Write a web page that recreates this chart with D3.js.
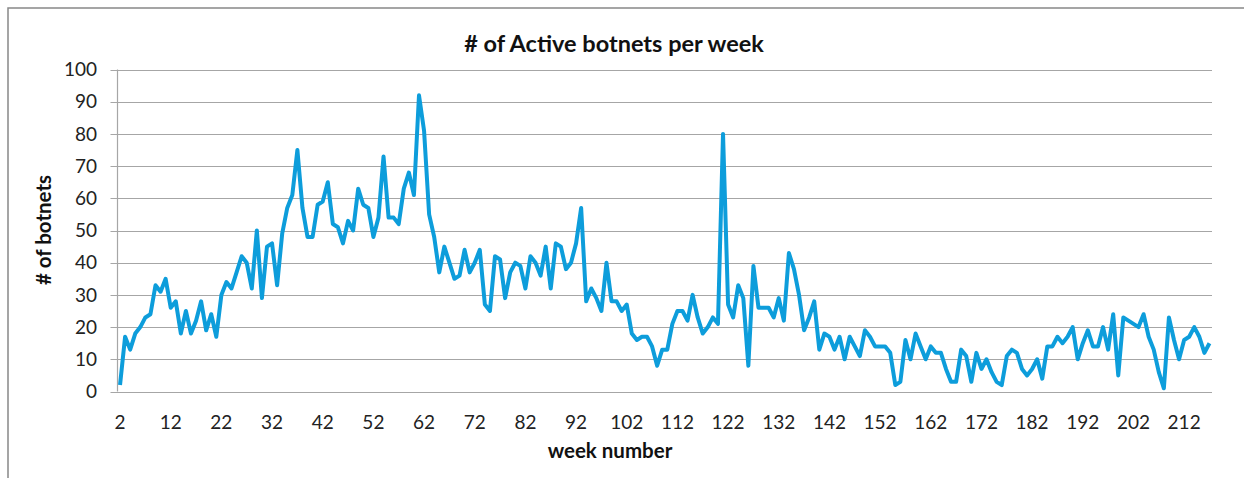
<html>
<head>
<script src="https://d3js.org/d3.v7.min.js"></script>
<style>
body { margin: 0; background: #fff; font-family: Lato, 'Open Sans', sans-serif; }
line.grid { stroke: #a6a6a6; stroke-width: 1.2; }
</style>
</head>
<body>
<div id="chart"></div>
<script>

var weeks = d3.range(2, 218);
var botnets = [
  2, 17, 13, 18, 20, 23, 24, 33, 31, 35,
  26, 28, 18, 25, 18, 22, 28, 19, 24, 17,
  30, 34, 32, 37, 42, 40, 32, 50, 29, 45,
  46, 33, 49, 57, 61, 75, 57, 48, 48, 58,
  59, 65, 52, 51, 46, 53, 50, 63, 58, 57,
  48, 54, 73, 54, 54, 52, 63, 68, 61, 92,
  81, 55, 48, 37, 45, 40, 35, 36, 44, 37,
  40, 44, 27, 25, 42, 41, 29, 37, 40, 39,
  32, 42, 40, 36, 45, 32, 46, 45, 38, 40,
  46, 57, 28, 32, 29, 25, 40, 28, 28, 25,
  27, 18, 16, 17, 17, 14, 8, 13, 13, 21,
  25, 25, 22, 30, 23, 18, 20, 23, 21, 80,
  27, 23, 33, 29, 8, 39, 26, 26, 26, 23,
  29, 22, 43, 38, 30, 19, 23, 28, 13, 18,
  17, 13, 17, 10, 17, 14, 11, 19, 17, 14,
  14, 14, 12, 2, 3, 16, 10, 18, 14, 10,
  14, 12, 12, 7, 3, 3, 13, 11, 3, 12,
  7, 10, 6, 3, 2, 11, 13, 12, 7, 5,
  7, 10, 4, 14, 14, 17, 15, 17, 20, 10,
  15, 19, 14, 14, 20, 13, 24, 5, 23, 22,
  21, 20, 24, 17, 13, 6, 1, 23, 16, 10,
  16, 17, 20, 17, 12, 15
];
var yTicks = d3.range(0, 101, 10);
var xLabels = weeks.filter(function(w) { return (w - 2) % 10 === 0; });

var width = 1244, height = 478;
var plotLeft = 117.5, plotRight = 1212, plotTop = 69.5, plotBottom = 391.5;

var svg = d3.select("#chart").append("svg")
  .attr("width", width).attr("height", height)
  .style("display", "block");

// outer frame of the chart object (runs off the right and bottom edge)
svg.append("rect")
  .attr("x", 8).attr("y", 8)
  .attr("width", 1300).attr("height", 600)
  .style("fill", "none").style("stroke", "#888").style("stroke-width", 1.5);

var xScale = d3.scalePoint().domain(weeks).range([plotLeft, plotRight]).padding(0.5);
var yScale = d3.scaleLinear().domain([0, 100]).range([plotBottom, plotTop]);

svg.selectAll("line.grid").data(yTicks).enter().append("line")
  .attr("class", "grid")
  .attr("x1", plotLeft - 7).attr("x2", plotRight)
  .attr("y1", function(d) { return Math.round(yScale(d)) + 0.5; })
  .attr("y2", function(d) { return Math.round(yScale(d)) + 0.5; });

svg.append("line").attr("class", "grid")
  .attr("x1", plotLeft).attr("x2", plotLeft)
  .attr("y1", plotTop).attr("y2", plotBottom);

svg.selectAll("text.ytick").data(yTicks).enter().append("text")
  .attr("class", "ytick")
  .attr("x", 97)
  .attr("y", function(d) { return yScale(d); })
  .attr("dy", "0.35em")
  .attr("text-anchor", "end")
  .style("font-size", "19px").style("fill", "#222")
  .text(function(d) { return d; });

svg.selectAll("text.xtick").data(xLabels).enter().append("text")
  .attr("class", "xtick")
  .attr("x", function(d) { return xScale(d); })
  .attr("y", 429)
  .attr("text-anchor", "middle")
  .style("font-size", "19px").style("fill", "#222")
  .text(function(d) { return d; });

var line = d3.line()
  .x(function(d, i) { return xScale(weeks[i]); })
  .y(function(d) { return yScale(d); });

svg.append("path")
  .datum(botnets)
  .attr("d", line)
  .style("fill", "none")
  .style("stroke", "#0d9ddb")
  .style("stroke-width", 4)
  .style("stroke-linejoin", "round");

svg.append("text")
  .attr("x", 614).attr("y", 52)
  .attr("text-anchor", "middle")
  .style("font-size", "23.5px").style("font-weight", "bold").style("fill", "#111")
  .text("# of Active botnets per week");

svg.append("text")
  .attr("x", 610).attr("y", 458)
  .attr("text-anchor", "middle")
  .style("font-size", "20.5px").style("font-weight", "bold").style("fill", "#111")
  .text("week number");

svg.append("text")
  .attr("transform", "translate(51,230) rotate(-90)")
  .attr("text-anchor", "middle")
  .style("font-size", "20.5px").style("font-weight", "bold").style("fill", "#111")
  .text("# of botnets");

</script>
</body>
</html>
